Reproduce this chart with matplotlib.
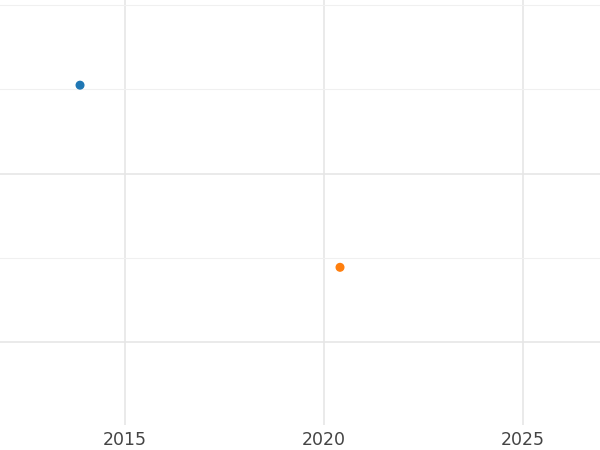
import matplotlib.pyplot as plt
from matplotlib.ticker import MultipleLocator, FixedLocator

# values (y units are arbitrary, no labels shown)
years = [2013.87, 2020.4]
values = [3.05, 0.89]
colors = ["#1f77b4", "#ff7f0e"]

fig = plt.figure(figsize=(6, 4.5), dpi=100)
ax = fig.add_axes([0, 25 / 450, 1, 425 / 450])

ax.scatter(years, values, c=colors, s=30, zorder=3)

ax.set_xlim(2011.86, 2026.93)
ax.set_ylim(-0.98, 4.06)
ax.xaxis.set_major_locator(MultipleLocator(5))
ax.yaxis.set_major_locator(FixedLocator([0, 2]))
ax.yaxis.set_minor_locator(FixedLocator([1, 3, 4]))
ax.grid(which="major", color="#e6e6e6", lw=1.2)
ax.grid(which="minor", axis="y", color="#f0f0f0", lw=0.8)
ax.set_axisbelow(True)
for s in ax.spines.values():
    s.set_visible(False)
ax.tick_params(which="both", length=0)
ax.tick_params(axis="x", labelsize=12.5, labelcolor="#444444", pad=4)
ax.set_yticklabels([])

fig.savefig("out.png")
